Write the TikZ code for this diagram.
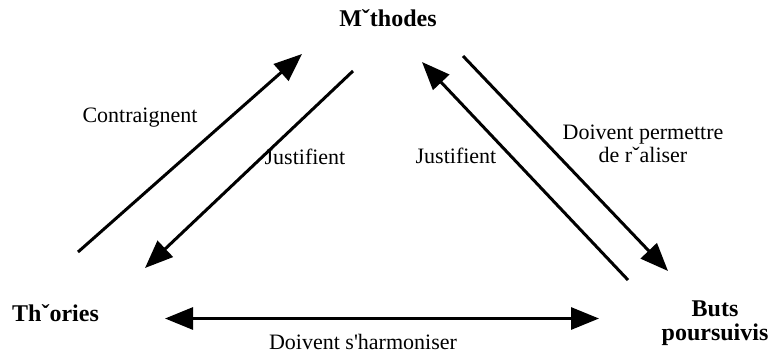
\documentclass[tikz,border=0pt]{standalone}
\usepackage{fontspec}
\setmainfont{Liberation Serif}[Ligatures=TeXOff]
\usepackage{tikz}
\usetikzlibrary{positioning,arrows.meta}
\tikzset{
  pole/.style  ={font=\fontsize{24}{24}\selectfont\bfseries, inner sep=0pt, align=center},
  lbl/.style   ={font=\fontsize{22}{23}\selectfont, inner sep=0pt, align=center},
  link/.style  ={-{Triangle[length=28pt,width=22pt]}, line width=3pt},
  twolink/.style={{Triangle[length=28pt,width=22pt]}-{Triangle[length=28pt,width=22pt]}, line width=3pt},
}
\begin{document}
\begin{tikzpicture}[x=1pt,y=-1pt]
  \useasboundingbox (0,0) rectangle (775,354);
  % poles of the triangle
  \node[pole] (meth) at (388,18) {Mˇthodes};
  \node[pole, anchor=west] (theo) at (12,313) {Thˇories};
  \node[pole] (buts) at (715,323) {Buts\\poursuivis};
  % arrow ends
  \coordinate (a1s) at (78,252);  \coordinate (a1e) at (302,54);
  \coordinate (a2s) at (353,71);  \coordinate (a2e) at (145,268);
  \coordinate (a3s) at (628,280); \coordinate (a3e) at (422,62);
  \coordinate (a4s) at (463,56);  \coordinate (a4e) at (668,271);
  \coordinate (a5s) at (165,318.5); \coordinate (a5e) at (599,318.5);
  \draw[link] (a1s) -- (a1e);
  \draw[link] (a2s) -- (a2e);
  \draw[link] (a3s) -- (a3e);
  \draw[link] (a4s) -- (a4e);
  \draw[twolink] (a5s) -- (a5e);
  % labels
  \node[lbl] (contr) at (140,118) {Contraignent};
  \node[lbl] (justl) at (305,157) {Justifient};
  \node[lbl] (justr) at (456,156) {Justifient};
  \node[lbl] (perm) at (643,144) {Doivent permettre\\de rˇaliser};
  \node[lbl] (harm) at (363,342) {Doivent s'harmoniser};
\end{tikzpicture}
\end{document}
